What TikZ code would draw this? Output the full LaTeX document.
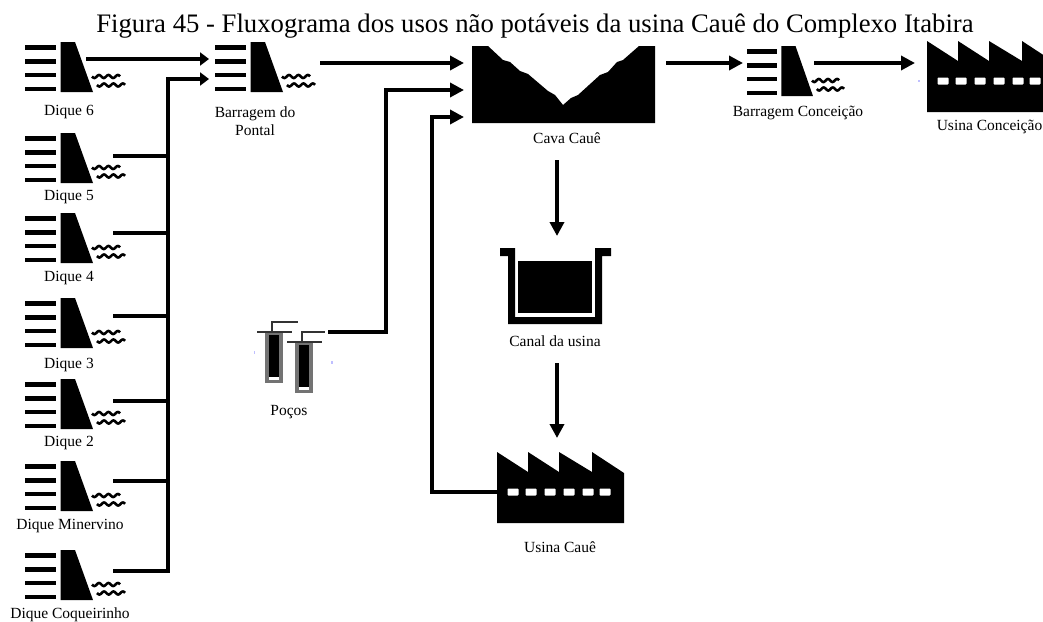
\documentclass[tikz,border=0pt]{standalone}
\usepackage{fontspec}
\setmainfont{Liberation Serif}
\usetikzlibrary{arrows.meta}
\tikzset{
  flow/.style={line width=4pt,-{Triangle[length=14pt,width=14pt]}},
  flowsm/.style={line width=4pt,-{Triangle[length=9pt,width=13pt]}},
  feed/.style={line width=4pt},
  lbl/.style={font=\fontsize{15.5}{18}\selectfont,inner sep=0pt,align=center},
  blbl/.style={lbl,anchor=base},
  damicon/.pic={
    \foreach \yy in {5.3,19.3,33,47}{
      \fill[black] (0,\yy-2.2) rectangle (31,\yy+2.2);
    }
    \fill[black] (35.5,0) -- (50,0) -- (68,50) -- (35.5,50) -- cycle;
    \draw[line width=2.6pt,black] plot[domain=0:28,samples=45] (67+\x,{34.5+1.5*sin(\x*360/9.4)});
    \draw[line width=2.6pt,black] plot[domain=0:28,samples=45] (72+\x,{43+1.5*sin(\x*360/9.4)});
  },
  factory/.pic={
    \fill[black] (0,0) -- (31,20) -- (31,0) -- (62,20) -- (62,0) -- (95,20) -- (95,0) -- (127,21) -- (127,71) -- (0,71) -- cycle;
    \foreach \xx in {16,34,53,72,91,108}{
      \fill[white,rounded corners=0.8pt] (\xx-5.5,36.5) rectangle (\xx+5.5,43.5);
    }
  },
  wellicon/.pic={
    \fill[black!55] (0,0) rectangle (18,51);
    \fill[black] (3.5,3) rectangle (14,45);
    \fill[white] (3.5,45) rectangle (14,47.5);
    \draw[line width=2pt,black!80] (-8,0) -- (27,0);
    \draw[line width=2pt,black!80] (7,0) -- (7,-10) -- (\pipelen,-10);
  },
}
\newcommand{\pipelen}{33}
\begin{document}
\begin{tikzpicture}[x=1pt,y=-1pt]
\clip (0,0) rectangle (1043,621);
\fill[white] (0,0) rectangle (1043,621);

\node[inner sep=0pt,font=\fontsize{26.7}{30}\selectfont,anchor=base] (title) at (535,32) {Figura 45 - Fluxograma dos usos não potáveis da usina Cauê do Complexo Itabira};

% dam icons
\pic at (25,42) {damicon};
\pic at (25,133) {damicon};
\pic at (25,213) {damicon};
\pic at (25,298) {damicon};
\pic at (25,379) {damicon};
\pic at (25,461) {damicon};
\pic at (25,550) {damicon};
\pic at (215,42) {damicon};
\pic[xscale=0.97] at (747,46) {damicon};

% labels
\node[blbl] (d6) at (69,115) {Dique 6};
\node[blbl] (d5) at (69,200) {Dique 5};
\node[blbl] (d4) at (69,281) {Dique 4};
\node[blbl] (d3) at (69,368) {Dique 3};
\node[blbl] (d2) at (69,446) {Dique 2};
\node[blbl] (dm) at (70,529) {Dique Minervino};
\node[blbl] (dc) at (70,618) {Dique Coqueirinho};
\node[lbl] (bp) at (255,121) {Barragem do\\Pontal};
\node[blbl] (cava) at (567,143) {Cava Cauê};
\node[blbl] (bc) at (798,116) {Barragem Conceição};
\node[blbl] (uc) at (989.5,130) {Usina Conceição};
\node[blbl] (canal) at (555,346) {Canal da usina};
\node[blbl] (pocos) at (289,415) {Poços};
\node[blbl] (ucaue) at (560,552) {Usina Cauê};

% Cava
\fill[black] (472,46) -- (488,46) -- (503,60) -- (510,62) -- (520,71) -- (528,74) -- (548,91) -- (555,95) -- (563,105) -- (571,98) -- (578,95) -- (600,75) -- (608,72) -- (617,62) -- (623,60) -- (639,46) -- (655,46) -- (655,123) -- (472,123) -- cycle;

% Canal
\fill[black] (500,248) -- (515,248) -- (515,317) -- (595,317) -- (595,248) -- (611,248) -- (611,256) -- (602,256) -- (602,324) -- (508,324) -- (508,256) -- (500,256) -- cycle;
\fill[black] (518,261) rectangle (592,313);

% factories
\pic at (497,452) {factory};
\pic at (927,41) {factory};

% wells
\pic at (265,332) {wellicon};
\renewcommand{\pipelen}{30}
\pic at (295,342) {wellicon};

% specks
\fill[blue!25] (253.5,351) rectangle (255,354);
\fill[blue!25] (331,361) rectangle (332.5,364);
\fill[blue!25] (918,80) rectangle (920,82);

% anchors
\coordinate (o6) at (86,59);
\coordinate (iP1) at (209,59);
\coordinate (iP2) at (209,79);
\coordinate (trunk) at (168,79);
\coordinate (o5) at (113,156);
\coordinate (o4) at (113,233);
\coordinate (o3) at (113,316);
\coordinate (o2) at (113,401);
\coordinate (om) at (113,481);
\coordinate (oc) at (113,571);
\coordinate (oP) at (320,63);
\coordinate (iC1) at (464,63);
\coordinate (iC2) at (464,90);
\coordinate (iC3) at (464,117);
\coordinate (oW) at (328,332);
\coordinate (oU) at (498,492);
\coordinate (oC) at (666,63);
\coordinate (iB) at (743,63);
\coordinate (oB) at (814,63);
\coordinate (iF) at (915,63);
\coordinate (oCd) at (557,160);
\coordinate (iCn) at (557,236);
\coordinate (oCn) at (557,363);
\coordinate (iU) at (557,438);

% connectors
\draw[flowsm] (o6) -- (iP1);
\draw[flowsm] (oc) -| (trunk) -- (iP2);
\foreach \c in {o5,o4,o3,o2,om}{
  \draw[feed] (\c) -- (\c -| trunk);
}
\draw[flow] (oP) -- (iC1);
\draw[flow] (oW) -- (386,332) -- (386,90) -- (iC2);
\draw[flow] (oU) -- (432,492) -- (432,117) -- (iC3);
\draw[flow] (oC) -- (iB);
\draw[flow] (oB) -- (iF);
\draw[flow] (oCd) -- (iCn);
\draw[flow] (oCn) -- (iU);
\end{tikzpicture}
\end{document}
